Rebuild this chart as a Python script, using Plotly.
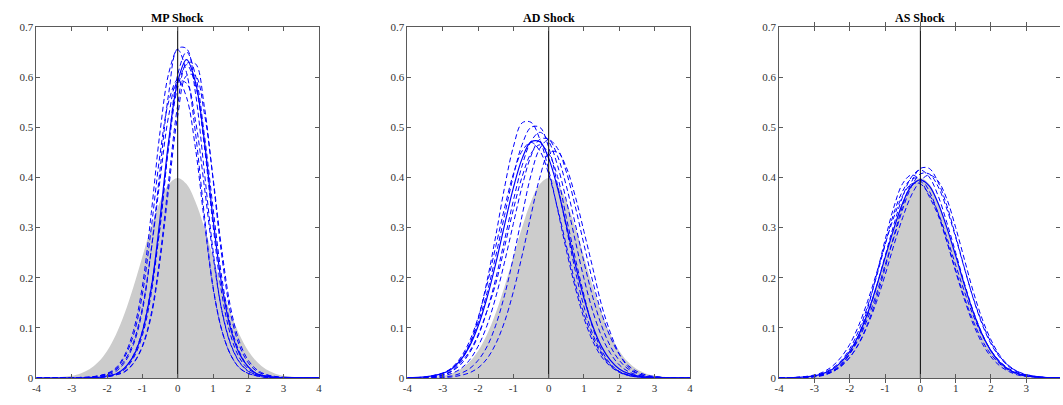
import plotly.graph_objects as go

# ---------------- data ----------------
X_GRID = [-4, -3.5, -3, -2.75, -2.5, -2.25, -2, -1.75, -1.5, -1.25, -1, -0.75, -0.5, -0.25,
          0, 0.25, 0.5, 0.75, 1, 1.25, 1.5, 1.75, 2, 2.25, 2.5, 2.75, 3, 3.5, 4]

# standard normal reference density (grey area)
GRAY_Y = [0.0001, 0.0009, 0.0044, 0.0091, 0.0175, 0.0317, 0.0540, 0.0863, 0.1295, 0.1826,
          0.2420, 0.3011, 0.3521, 0.3867, 0.3989, 0.3867, 0.3521, 0.3011, 0.2420, 0.1826,
          0.1295, 0.0863, 0.0540, 0.0317, 0.0175, 0.0091, 0.0044, 0.0009, 0.0001]

PANEL_TITLES = ["MP Shock", "AD Shock", "AS Shock"]
X_TICKS = [-4, -3, -2, -1, 0, 1, 2, 3, 4]
X_TICK_TEXT = ["-4", "-3", "-2", "-1", "0", "1", "2", "3", "4"]
Y_TICKS = [0, 0.1, 0.2, 0.3, 0.4, 0.5, 0.6, 0.7]
Y_TICK_TEXT = ["0", "0.1", "0.2", "0.3", "0.4", "0.5", "0.6", "0.7"]

# ---- MP shock ----
mp_solid = [0, 0, 0, 0, 0.001, 0.001, 0.004, 0.008, 0.020, 0.044, 0.092, 0.178, 0.318, 0.476,
            0.591, 0.635, 0.591, 0.476, 0.318, 0.185, 0.098, 0.048, 0.022, 0.008, 0.004, 0.001, 0.001, 0, 0]
mp_dashed = [
    [0, 0, 0, 0, 0.001, 0.003, 0.006, 0.013, 0.031, 0.067, 0.134, 0.255, 0.415, 0.570,
     0.657, 0.657, 0.570, 0.415, 0.255, 0.134, 0.067, 0.031, 0.013, 0.006, 0.003, 0.001, 0, 0, 0],
    [0, 0, 0, 0.001, 0.001, 0.004, 0.009, 0.020, 0.046, 0.095, 0.183, 0.328, 0.491, 0.609,
     0.655, 0.609, 0.491, 0.328, 0.183, 0.095, 0.046, 0.020, 0.009, 0.004, 0.001, 0.001, 0, 0, 0],
    [0, 0, 0, 0, 0, 0.001, 0.003, 0.006, 0.013, 0.030, 0.064, 0.128, 0.243, 0.397,
     0.544, 0.627, 0.627, 0.544, 0.397, 0.243, 0.128, 0.064, 0.030, 0.013, 0.006, 0.003, 0.001, 0, 0],
    [0, 0, 0, 0, 0.001, 0.001, 0.004, 0.008, 0.020, 0.046, 0.094, 0.182, 0.300, 0.470,
     0.605, 0.650, 0.605, 0.488, 0.340, 0.200, 0.105, 0.052, 0.022, 0.008, 0.004, 0.001, 0.001, 0, 0],
    [0, 0, 0, 0.001, 0.002, 0.004, 0.008, 0.016, 0.035, 0.072, 0.140, 0.255, 0.395, 0.525,
     0.592, 0.588, 0.515, 0.385, 0.245, 0.135, 0.068, 0.032, 0.014, 0.006, 0.003, 0.001, 0, 0, 0],
    [0, 0, 0, 0.001, 0.001, 0.004, 0.008, 0.018, 0.042, 0.086, 0.167, 0.298, 0.446, 0.553,
     0.595, 0.560, 0.460, 0.315, 0.180, 0.095, 0.046, 0.020, 0.009, 0.004, 0.001, 0.001, 0, 0, 0],
    [0, 0, 0, 0, 0, 0.001, 0.002, 0.006, 0.012, 0.029, 0.062, 0.123, 0.234, 0.381,
     0.523, 0.603, 0.603, 0.530, 0.400, 0.255, 0.140, 0.072, 0.035, 0.016, 0.007, 0.003, 0.001, 0, 0],
    [0, 0, 0, 0, 0.001, 0.001, 0.003, 0.007, 0.017, 0.040, 0.085, 0.168, 0.305, 0.465,
     0.580, 0.625, 0.585, 0.465, 0.305, 0.168, 0.085, 0.040, 0.018, 0.008, 0.003, 0.001, 0, 0, 0],
]

# ---- AD shock ----
ad_solid = [0, 0.002, 0.009, 0.018, 0.035, 0.062, 0.103, 0.159, 0.228, 0.305, 0.379, 0.438, 0.471, 0.471,
            0.438, 0.379, 0.305, 0.228, 0.159, 0.103, 0.062, 0.035, 0.018, 0.009, 0.004, 0.002, 0.001, 0, 0]
ad_dashed = [
    [0, 0.001, 0.006, 0.015, 0.033, 0.065, 0.117, 0.192, 0.283, 0.380, 0.461, 0.509, 0.510, 0.476,
     0.415, 0.337, 0.255, 0.181, 0.119, 0.073, 0.042, 0.023, 0.011, 0.005, 0.002, 0.001, 0, 0, 0],
    [0, 0.002, 0.009, 0.019, 0.037, 0.066, 0.110, 0.169, 0.243, 0.324, 0.403, 0.466, 0.500, 0.500,
     0.460, 0.385, 0.300, 0.215, 0.142, 0.087, 0.050, 0.026, 0.012, 0.005, 0.002, 0.001, 0, 0, 0],
    [0, 0.001, 0.006, 0.013, 0.026, 0.049, 0.083, 0.133, 0.198, 0.275, 0.354, 0.424, 0.472, 0.490,
     0.472, 0.424, 0.354, 0.275, 0.198, 0.133, 0.083, 0.049, 0.026, 0.013, 0.006, 0.003, 0.001, 0, 0],
    [0, 0.001, 0.004, 0.009, 0.018, 0.035, 0.063, 0.104, 0.161, 0.231, 0.308, 0.383, 0.443, 0.476,
     0.476, 0.443, 0.383, 0.308, 0.231, 0.161, 0.104, 0.063, 0.035, 0.018, 0.009, 0.004, 0.002, 0, 0],
    [0, 0, 0.002, 0.004, 0.009, 0.018, 0.035, 0.062, 0.105, 0.165, 0.240, 0.325, 0.405, 0.458,
     0.475, 0.458, 0.411, 0.343, 0.266, 0.192, 0.129, 0.081, 0.047, 0.025, 0.013, 0.006, 0.003, 0, 0],
    [0, 0, 0.001, 0.002, 0.005, 0.010, 0.020, 0.038, 0.068, 0.112, 0.172, 0.245, 0.325, 0.400,
     0.448, 0.451, 0.420, 0.363, 0.292, 0.219, 0.145, 0.090, 0.048, 0.022, 0.010, 0.004, 0.002, 0, 0],
    [0, 0.001, 0.006, 0.013, 0.030, 0.052, 0.086, 0.133, 0.188, 0.261, 0.336, 0.402, 0.448, 0.465,
     0.448, 0.402, 0.320, 0.240, 0.165, 0.100, 0.055, 0.028, 0.013, 0.006, 0.003, 0.001, 0, 0, 0],
    [0, 0.002, 0.010, 0.020, 0.040, 0.072, 0.120, 0.185, 0.262, 0.339, 0.407, 0.453, 0.470, 0.453,
     0.407, 0.339, 0.264, 0.190, 0.128, 0.080, 0.047, 0.025, 0.013, 0.006, 0.003, 0.001, 0, 0, 0],
]

# ---- AS shock ----
as_solid = [0, 0.001, 0.004, 0.009, 0.017, 0.031, 0.053, 0.085, 0.128, 0.181, 0.240, 0.298, 0.349, 0.383,
            0.395, 0.383, 0.349, 0.300, 0.244, 0.185, 0.131, 0.087, 0.054, 0.031, 0.017, 0.009, 0.004, 0.001, 0]
as_dashed = [
    [0, 0.001, 0.003, 0.006, 0.012, 0.023, 0.041, 0.068, 0.107, 0.158, 0.219, 0.283, 0.344, 0.391,
     0.418, 0.418, 0.391, 0.344, 0.283, 0.219, 0.158, 0.107, 0.068, 0.041, 0.023, 0.012, 0.006, 0.001, 0],
    [0, 0, 0.002, 0.005, 0.012, 0.026, 0.049, 0.085, 0.137, 0.203, 0.275, 0.341, 0.388, 0.405,
     0.394, 0.362, 0.325, 0.272, 0.215, 0.160, 0.113, 0.075, 0.047, 0.028, 0.015, 0.008, 0.004, 0.001, 0],
    [0, 0.001, 0.003, 0.007, 0.013, 0.024, 0.048, 0.077, 0.117, 0.166, 0.225, 0.280, 0.337, 0.382,
     0.407, 0.407, 0.382, 0.337, 0.280, 0.218, 0.159, 0.110, 0.071, 0.043, 0.024, 0.013, 0.007, 0.001, 0],
    [0, 0.001, 0.004, 0.010, 0.019, 0.034, 0.058, 0.094, 0.142, 0.200, 0.265, 0.329, 0.373, 0.397,
     0.397, 0.373, 0.329, 0.273, 0.212, 0.156, 0.107, 0.069, 0.042, 0.024, 0.013, 0.006, 0.003, 0.001, 0],
    [0, 0, 0.003, 0.006, 0.012, 0.023, 0.041, 0.067, 0.104, 0.150, 0.205, 0.265, 0.320, 0.365,
     0.393, 0.405, 0.393, 0.357, 0.300, 0.236, 0.172, 0.118, 0.076, 0.045, 0.025, 0.013, 0.006, 0.001, 0],
    [0, 0, 0.003, 0.007, 0.014, 0.027, 0.048, 0.080, 0.124, 0.180, 0.243, 0.306, 0.362, 0.401,
     0.415, 0.401, 0.364, 0.310, 0.250, 0.188, 0.133, 0.088, 0.054, 0.031, 0.017, 0.008, 0.004, 0.001, 0],
    [0, 0.001, 0.006, 0.012, 0.023, 0.041, 0.067, 0.104, 0.152, 0.207, 0.266, 0.321, 0.364, 0.387,
     0.387, 0.366, 0.330, 0.280, 0.225, 0.172, 0.124, 0.085, 0.055, 0.033, 0.019, 0.010, 0.005, 0.001, 0],
]

PANELS = [(mp_solid, mp_dashed), (ad_solid, ad_dashed), (as_solid, as_dashed)]

for s, ds in PANELS:
    assert len(s) == len(X_GRID)
    for d in ds:
        assert len(d) == len(X_GRID), len(d)

# ---------------- layout geometry ----------------
W, H = 1063, 405
PANEL_LEFT_PX = [31.7, 405.5, 780.0]
PANEL_W_PX = 284.6
TOP_PX, BOTTOM_PX = 21.7, 383.3
TITLE_PX = 12.7
PX_PER_UNIT = PANEL_W_PX / 8.0

AX_COLOR = "#5a5a5a"
LABEL_COLOR = "#333333"
FONT = "Liberation Serif"

fig = go.Figure()

for i, (solid, dashed) in enumerate(PANELS):
    xa = "x" if i == 0 else f"x{i+1}"
    ya = "y" if i == 0 else f"y{i+1}"
    fig.add_trace(go.Scatter(x=X_GRID, y=GRAY_Y, mode="lines", fill="tozeroy",
                             fillcolor="#cccccc", line=dict(width=0, color="#cccccc", shape="spline"),
                             xaxis=xa, yaxis=ya, hoverinfo="skip", showlegend=False))
    for d in dashed:
        fig.add_trace(go.Scatter(x=X_GRID, y=d, mode="lines",
                                 line=dict(color="#0000ff", width=1, dash="5px,3px", shape="spline", smoothing=1),
                                 xaxis=xa, yaxis=ya, showlegend=False))
    fig.add_trace(go.Scatter(x=X_GRID, y=solid, mode="lines",
                             line=dict(color="#0000ff", width=1.2, shape="spline", smoothing=1),
                             xaxis=xa, yaxis=ya, showlegend=False))
    fig.add_trace(go.Scatter(x=[0, 0], y=[0, 0.7], mode="lines",
                             line=dict(color="#000000", width=1),
                             xaxis=xa, yaxis=ya, showlegend=False, hoverinfo="skip"))

    left_px = PANEL_LEFT_PX[i]
    right_px = left_px + PANEL_W_PX
    x_max = 4.0
    last = right_px > W
    if last:  # the last panel runs past the picture's right edge
        x_max = 4.0 - (right_px - W) / PX_PER_UNIT
        right_px = W
    left = left_px / W
    right = right_px / W
    ax_common = dict(showgrid=False, zeroline=False, showline=True, linecolor=AX_COLOR, linewidth=1,
                     ticks="inside", ticklen=4, tickwidth=1, tickcolor=AX_COLOR,
                     tickfont=dict(family=FONT, size=11, color=LABEL_COLOR), fixedrange=True)
    xkey = "xaxis" if i == 0 else f"xaxis{i+1}"
    ykey = "yaxis" if i == 0 else f"yaxis{i+1}"
    ydom = [1 - BOTTOM_PX / H, 1 - TOP_PX / H]
    fig.layout[xkey] = dict(domain=[left, right], range=[-4, x_max], anchor=ya, mirror="allticks",
                            tickvals=X_TICKS, ticktext=X_TICK_TEXT, **ax_common)
    fig.layout[ykey] = dict(domain=ydom, range=[0, 0.7], anchor=xa,
                            mirror=(False if last else "allticks"),
                            tickvals=Y_TICKS, ticktext=Y_TICK_TEXT, **ax_common)
    if last:
        # right-hand ticks only: the box line itself lies just outside the picture
        fig.layout["yaxis4"] = dict(domain=ydom, range=[0, 0.7], anchor=xa, overlaying=ya,
                                    side="right", showline=False, showgrid=False, zeroline=False,
                                    ticks="inside", ticklen=4, tickwidth=1, tickcolor=AX_COLOR,
                                    tickvals=Y_TICKS, showticklabels=False, fixedrange=True)
        fig.add_trace(go.Scatter(x=[0], y=[0], mode="markers", marker=dict(opacity=0),
                                 xaxis=xa, yaxis="y4", showlegend=False, hoverinfo="skip"))
    fig.add_annotation(text=f"<b>{PANEL_TITLES[i]}</b>", xref="paper", yref="paper",
                       x=(left_px + PANEL_W_PX / 2) / W, y=1 - TITLE_PX / H,
                       xanchor="center", yanchor="middle", showarrow=False,
                       font=dict(family=FONT, size=12, color="#000000"))

fig.update_layout(width=W, height=H, margin=dict(l=0, r=0, t=0, b=0),
                  paper_bgcolor="white", plot_bgcolor="white", showlegend=False)

fig.write_html("out.html", config={"displayModeBar": False},
               post_script="document.documentElement.style.overflow='hidden';"
                           "document.body.style.margin='0';document.body.style.overflow='hidden';")
